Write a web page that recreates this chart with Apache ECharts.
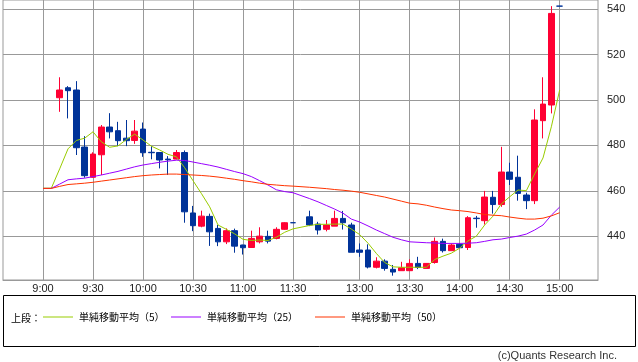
<!DOCTYPE html>
<html><head><meta charset="utf-8">
<script src="https://cdn.jsdelivr.net/npm/echarts@6/dist/echarts.min.js"></script>
<style>html,body{margin:0;padding:0;background:#fff}#c{width:638px;height:362px}</style>
</head><body><div id="c"></div><script>
// time slots (5-minute bars); '' marks the empty slot at the lunch break
const times = ['9:00','9:05','9:10','9:15','9:20','9:25','9:30','9:35','9:40','9:45','9:50','9:55',
  '10:00','10:05','10:10','10:15','10:20','10:25','10:30','10:35','10:40','10:45','10:50','10:55',
  '11:00','11:05','11:10','11:15','11:20','11:25','11:30','',
  '12:30','12:35','12:40','12:45','12:50','12:55',
  '13:00','13:05','13:10','13:15','13:20','13:25','13:30','13:35','13:40','13:45','13:50','13:55',
  '14:00','14:05','14:10','14:15','14:20','14:25','14:30','14:35','14:40','14:45','14:50','14:55','15:00'];
const tickLabels = ['9:00','9:30','10:00','10:30','11:00','11:30','13:00','13:30','14:00','14:30','15:00'];
const yTicks = [440,460,480,500,520,540];

const open  = [null,null,501.0,505.4,504.4,479.3,466.0,475.9,488.1,486.5,483.2,482.2,487.2,477.0,476.9,474.0,474.0,476.9,450.3,444.5,448.8,443.5,437.6,442.5,436.2,435.1,437.6,440.0,439.1,443.1,446.0,null,
  448.6,445.4,443.1,444.5,447.9,445.0,434.0,434.0,426.4,429.1,425.5,424.9,424.9,428.1,425.9,428.5,437.8,433.7,436.5,435.1,448.0,446.9,457.2,454.0,468.3,466.0,458.2,455.7,490.9,497.8,541.3];
const close = [null,null,504.4,504.1,479.0,466.7,476.2,488.1,486.0,482.1,482.1,486.3,476.8,476.8,473.6,473.7,476.9,450.8,444.7,448.9,442.0,437.6,442.5,435.7,435.0,439.1,440.1,437.9,443.1,446.0,446.0,null,
  445.0,442.8,445.0,447.9,446.0,433.0,433.0,426.5,429.1,425.9,424.3,426.2,428.1,426.3,428.1,437.8,433.7,436.2,435.0,448.2,447.8,457.3,454.0,468.3,465.1,458.9,455.7,491.2,498.2,538.1,541.3];
const low   = [null,null,494.8,491.9,475.8,465.8,465.8,467.0,483.1,479.7,479.7,480.7,475.0,473.9,469.9,467.0,473.9,446.0,442.3,444.0,435.8,435.7,436.6,432.8,432.0,435.0,436.9,436.9,438.7,442.9,446.0,null,
  444.5,440.8,442.2,444.5,443.0,433.0,431.0,425.9,425.9,424.9,422.7,424.9,424.9,425.6,425.9,428.0,432.9,433.7,435.0,434.0,443.8,445.2,450.0,453.0,462.6,455.7,452.0,454.2,483.1,494.1,541.3];
const high  = [null,null,510.0,506.1,508.3,484.1,477.0,489.0,494.2,490.4,491.2,491.2,490.1,479.7,476.9,475.3,478.0,477.8,453.4,451.3,450.0,445.0,443.5,443.4,436.3,442.5,444.0,442.5,444.0,446.2,446.0,null,
  451.3,446.4,447.2,451.3,451.2,446.0,436.9,436.5,430.8,429.9,427.4,428.8,429.9,431.0,428.1,439.5,439.0,436.9,437.0,448.9,449.0,460.0,460.0,479.4,472.4,475.5,459.2,495.9,510.0,541.3,541.3];

const ma5  = [461.2,461.2,469.7,478.5,482.2,483.2,486.0,481.6,479.2,479.8,482.6,485.0,482.4,479.7,478.0,476.1,475.0,470.2,464.5,458.9,453.0,445.0,443.1,441.1,438.7,438.2,438.4,438.2,439.6,441.8,443.3,null,
  444.8,445.3,445.3,445.4,445.4,443.2,440.8,437.0,432.5,428.5,426.6,426.4,426.4,426.4,426.4,429.8,431.3,432.6,434.8,438.0,440.1,445.0,448.9,454.3,457.4,460.4,460.1,467.5,474.5,488.2,504.4];
const ma25 = [461.1,461.1,463.0,464.9,465.3,465.6,466.3,467.0,467.8,468.6,469.6,470.6,471.4,472.0,472.6,473.1,473.5,473.4,472.7,472.0,471.3,470.5,469.5,468.5,467.6,466.3,464.5,462.6,460.5,459.7,459.2,null,
  456.6,455.2,453.6,452.0,450.2,447.6,446.3,444.6,442.8,441.2,439.6,438.5,437.6,437.4,437.2,437.1,436.9,436.9,436.9,437.0,437.2,437.8,438.5,438.8,439.5,440.1,441.0,442.8,445.0,449.3,452.9];
const ma50 = [461.1,461.1,462.0,462.8,463.1,463.4,463.8,464.3,464.8,465.3,465.8,466.3,466.7,467.0,467.2,467.4,467.4,467.2,467.0,466.8,466.5,466.1,465.6,465.1,464.5,464.0,463.4,462.9,462.6,462.3,462.1,null,
  461.6,461.3,461.0,460.6,460.3,459.9,459.4,458.7,458.0,457.3,456.4,455.5,454.6,454.3,453.7,452.9,452.2,451.6,451.3,450.9,450.3,449.6,449.3,449.1,448.5,448.0,447.6,447.6,448.0,449.0,450.4];

const UP = '#ff0033', DOWN = '#003399';
const candles = [];
times.forEach((t, i) => {
  if (open[i] == null) return;
  const item = { value: [i, open[i], close[i], low[i], high[i]] };
  if (open[i] === close[i]) item.itemStyle = { color: DOWN, borderColor: DOWN, color0: DOWN, borderColor0: DOWN };
  candles.push(item);
});
const linePts = arr => arr.map((v, i) => v == null ? null : [i, v]).filter(p => p);
const tickIdx = tickLabels.map(l => times.indexOf(l));

const maNames = ['単純移動平均（5）', '単純移動平均（25）', '単純移動平均（50）'];
const maColors = ['#99cc00', '#9900ff', '#ff3300'];
const maData = [ma5, ma25, ma50];
const legendLeft = [43, 171, 315];

const chart = echarts.init(document.getElementById('c'), null, { renderer: 'canvas' });
const axisFont = { fontFamily: 'Liberation Sans, Arial, sans-serif', fontSize: 11, color: '#222' };
chart.setOption({
  animation: false,
  grid: { left: 3, right: 40, top: 0, bottom: 82, show: true, borderColor: '#999', borderWidth: 1, backgroundColor: '#fff' },
  xAxis: {
    type: 'value', min: -4.8, max: 66.6,
    axisLine: { show: true, lineStyle: { color: '#999' } },
    axisTick: { show: false, customValues: tickIdx },
    axisLabel: Object.assign({ customValues: tickIdx, margin: 3, formatter: v => times[Math.round(v)] }, axisFont),
    splitLine: { show: true, lineStyle: { color: '#999', width: 1 } }
  },
  yAxis: {
    type: 'value', position: 'right', min: 420.8, max: 544.0, scale: true,
    axisLine: { show: true, lineStyle: { color: '#999' } },
    axisTick: { show: true, length: 5, customValues: yTicks, lineStyle: { color: '#999' } },
    axisLabel: Object.assign({ customValues: yTicks, margin: 9 }, axisFont),
    splitLine: { show: true, lineStyle: { color: '#999', width: 1 } }
  },
  legend: maNames.map((n, k) => ({
    data: [{ name: n, icon: 'rect' }], left: legendLeft[k], top: 312, padding: 0,
    itemWidth: 30, itemHeight: 1, itemGap: 0, selectedMode: false,
    itemStyle: { color: maColors[k], borderWidth: 0 },
    textStyle: { fontFamily: 'Noto Sans CJK JP', fontSize: 10, color: '#000', padding: [0, 0, 0, 1] }
  })),
  series: [
    {
      type: 'candlestick', name: 'price', data: candles, barWidth: 6,
      itemStyle: { color: UP, color0: DOWN, borderColor: UP, borderColor0: DOWN, borderWidth: 1 }
    }
  ].concat(maNames.map((n, k) => ({
    type: 'line', name: n, data: linePts(maData[k]), symbol: 'none', showSymbol: false,
    lineStyle: { color: maColors[k], width: 1 }, itemStyle: { color: maColors[k] }, z: 3
  }))),
  graphic: [
    { type: 'rect', shape: { x: 3.5, y: 295.5, width: 632, height: 51 }, style: { fill: 'none', stroke: '#000', lineWidth: 1 } },
    { type: 'text', x: 11, y: 318, style: { text: '上段：', fontFamily: 'Noto Sans CJK JP', fontSize: 10, fill: '#000', textVerticalAlign: 'middle' } },
    { type: 'text', x: 617, y: 356, style: { text: '(c)Quants Research Inc.', fontFamily: 'Liberation Sans, Arial, sans-serif', fontSize: 11, fill: '#333', textAlign: 'right', textVerticalAlign: 'middle' } }
  ]
});
</script></body></html>
